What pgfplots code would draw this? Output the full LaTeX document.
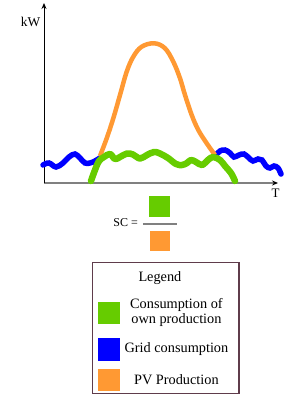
\documentclass[border=0pt]{standalone}
\usepackage{pgfplots}
\pgfplotsset{compat=1.18}
\usepackage{fontspec}
\setmainfont{Liberation Serif}
\usetikzlibrary{arrows.meta}
\definecolor{cgreen}{RGB}{102,204,0}
\definecolor{corange}{RGB}{255,153,51}
\definecolor{cblue}{RGB}{0,0,255}
\definecolor{axgray}{RGB}{128,128,128}
\definecolor{cborder}{RGB}{95,60,75}
\pgfplotsset{sqlegend/.style={legend image code/.code={\fill[##1] (0pt,-10.5pt) rectangle (21pt,10.5pt);}}}
\newcommand{\lcell}[2]{\parbox[c][#1][c]{105pt}{\centering #2}\hspace*{5pt}}
\begin{document}
\begin{tikzpicture}
\useasboundingbox (-44pt,-215pt) rectangle (245pt,183pt);
\begin{axis}[
  scale only axis, width=234pt, height=180pt,
  xmin=0, xmax=234, ymin=0, ymax=180,
  enlargelimits=false,
  axis lines=left,
  x axis line style={draw=axgray, line width=1.6pt, -{Stealth[black, length=6pt, width=5pt]}},
  y axis line style={draw=black, line width=0.9pt, -{Stealth[black, length=6pt, width=5pt]}},
  xtick=\empty, ytick=\empty,
  clip=false,
  legend style={at={(0.2051,-0.4389)}, anchor=north west,
    draw=cborder, line width=1.3pt, inner xsep=5pt, inner ysep=0pt,
    row sep=0pt, column sep=4pt,
    nodes={inner sep=0pt, text depth=, text height=},
    font=\fontsize{14.3}{15}\selectfont},
  legend cell align=center,
]
\addplot[cblue, line width=5.5pt, smooth, tension=0.6, line cap=round, forget plot] coordinates {
(-1,18) (5,20) (12,16) (19,20) (25,26) (31,29) (36,25) (41,20) (46,20) (51,22) (56,25) (59,26)};
\addplot[cblue, line width=5.5pt, smooth, tension=0.6, line cap=round, forget plot] coordinates {
(172,28) (176,32) (181,33) (186,30) (190,26) (195,28) (200,29) (205,25) (209,22) (214,24) (218,23) (222,17) (226,15) (230,17) (234,15) (237,9)};
\addplot[corange, line width=4.5pt, smooth, tension=0.6, forget plot] coordinates {
(56,27) (62.7,44.7) (69.3,64.7) (76,88) (82.7,111.3) (89.3,126.3) (97.7,136.3) (110.3,139.7) (121,134.7) (129.3,121.3) (136,104.7) (141,88) (147.7,68) (154.3,53) (162.7,39.7) (171,28)};
\addplot[cgreen, line width=6.5pt, smooth, tension=0.6, line cap=round, line join=round, forget plot] coordinates {
(47,2) (51,13) (55,22) (60,26) (66,29) (71,24) (76,26) (83,29.5) (89,28.5) (96,24.5) (103,28) (110,31) (116,29.5) (124,25) (132,19) (138,18) (143,20) (147,23) (152,21) (158,18) (164,23) (169,26) (176,23) (181,17) (187,10) (191,2)};
\addlegendimage{empty legend}
\addlegendentry{\lcell{30pt}{Legend\hspace*{33pt}}}
\addlegendimage{sqlegend, cgreen}
\addlegendentry{\lcell{40pt}{Consumption of\\own production}}
\addlegendimage{sqlegend, cblue}
\addlegendentry{\lcell{33.4pt}{Grid consumption}}
\addlegendimage{sqlegend, corange}
\addlegendentry{\lcell{27.2pt}{PV Production}}
\node[font=\fontsize{13.4}{15}\selectfont, inner sep=0pt] at (axis cs:-13.5,161.5) {kW};
\node[font=\fontsize{13}{15}\selectfont, inner sep=0pt] at (axis cs:231.5,-10.5) {T};
\node[anchor=east, inner sep=0pt, font=\fontsize{12}{14}\selectfont] at (axis cs:133,-40) {SC =\hspace{5pt}$\vcenter{\hbox{\vbox{\offinterlineskip
  \hbox to 34pt{\hfil\textcolor{cgreen}{\rule{21pt}{21pt}}\hfil}\kern6pt
  {\color{axgray}\hrule height 2pt}\kern6pt
  \hbox to 34pt{\hfil\textcolor{corange}{\rule{20pt}{20pt}}\hfil}}}}$};
\end{axis}
\end{tikzpicture}
\end{document}
